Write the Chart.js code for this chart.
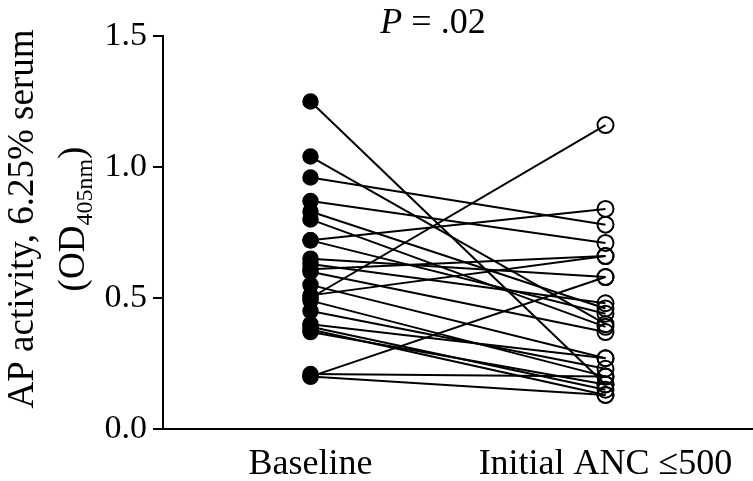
<!DOCTYPE html>
<html>
<head>
<meta charset="utf-8">
<script src="https://cdn.jsdelivr.net/npm/chart.js@4"></script>
<style>
  html, body { margin: 0; padding: 0; background: #ffffff; }
  #wrap { width: 753px; height: 481px; }
</style>
</head>
<body>
<div id="wrap"><canvas id="c" width="753" height="481"></canvas></div>
<script>
// ---- data ----
const categories = ['Baseline', 'Initial ANC \u2264500'];
const baselineValues = [1.25, 1.04, 0.96, 0.87, 0.83, 0.80, 0.72, 0.72, 0.65, 0.63, 0.61, 0.60,
                        0.55, 0.51, 0.50, 0.49, 0.45, 0.40, 0.39, 0.38, 0.37, 0.21, 0.20, 0.20];
const ancValues      = [0.17, 0.40, 0.78, 0.71, 0.46, 0.39, 0.84, 0.44, 0.58, 0.48, 0.66, 0.37,
                        0.27, 0.66, 1.16, 0.20, 0.23, 0.27, 0.15, 0.13, 0.17, 0.20, 0.58, 0.13];
const yTickValues = [0.0, 0.5, 1.0, 1.5];
const pValueLabel = ['P', ' = .02'];
const yTitleLine1 = 'AP activity, 6.25% serum';
const yTitleLine2 = ['(OD', '405nm', ')'];

const SERIF = '"Liberation Serif", "DejaVu Serif", serif';

const datasets = baselineValues.map((b, i) => ({
  data: [{x: 0, y: b}, {x: 1, y: ancValues[i]}],
  showLine: true,
  borderColor: '#000',
  borderWidth: 2,
  pointStyle: 'circle',
  pointRadius: [7.5, 8],
  pointBorderWidth: [1.5, 2],
  pointBackgroundColor: ['#000', 'rgba(0,0,0,0)'],
  pointBorderColor: '#000',
  clip: false
}));

const textPlugin = {
  id: 'textPlugin',
  afterDraw(chart) {
    const ctx = chart.ctx;
    ctx.save();
    ctx.fillStyle = '#000';
    // P value
    ctx.textBaseline = 'alphabetic';
    ctx.font = 'italic 36px ' + SERIF;
    const wP = ctx.measureText(pValueLabel[0]).width;
    ctx.font = '36px ' + SERIF;
    const wR = ctx.measureText(pValueLabel[1]).width;
    let x0 = 433 - (wP + wR) / 2;
    ctx.font = 'italic 36px ' + SERIF;
    ctx.fillText(pValueLabel[0], x0, 33);
    ctx.font = '36px ' + SERIF;
    ctx.fillText(pValueLabel[1], x0 + wP, 33);

    // Y title
    const cy = 219;
    ctx.save();
    ctx.translate(33, cy);
    ctx.rotate(-Math.PI / 2);
    ctx.font = '37px ' + SERIF;
    ctx.textAlign = 'center';
    ctx.fillText(yTitleLine1, 0, 0);
    ctx.restore();

    ctx.save();
    ctx.translate(84, cy);
    ctx.rotate(-Math.PI / 2);
    ctx.textAlign = 'left';
    ctx.font = '37px ' + SERIF;
    const w1 = ctx.measureText(yTitleLine2[0]).width;
    const w3 = ctx.measureText(yTitleLine2[2]).width;
    ctx.font = '24px ' + SERIF;
    const w2 = ctx.measureText(yTitleLine2[1]).width;
    let sx = -(w1 + w2 + w3) / 2;
    ctx.font = '37px ' + SERIF;
    ctx.fillText(yTitleLine2[0], sx, 0);
    ctx.font = '24px ' + SERIF;
    ctx.fillText(yTitleLine2[1], sx + w1, 8);
    ctx.font = '37px ' + SERIF;
    ctx.fillText(yTitleLine2[2], sx + w1 + w2, 0);
    ctx.restore();
    ctx.restore();
  }
};

new Chart(document.getElementById('c'), {
  type: 'scatter',
  data: { datasets },
  plugins: [textPlugin],
  options: {
    responsive: false,
    animation: false,
    layout: { autoPadding: false, padding: { top: 36, right: 0, left: 0, bottom: 0 } },
    plugins: { legend: { display: false }, tooltip: { enabled: false }, title: { display: false } },
    scales: {
      x: {
        type: 'linear',
        min: -0.5,
        max: 1.5,
        afterFit: s => { s.height = 52; s.paddingLeft = 0; s.paddingRight = 0; },
        afterBuildTicks: s => { s.ticks = [{value: 0}, {value: 1}]; },
        ticks: {
          autoSkip: false,
          maxRotation: 0,
          padding: 14,
          color: '#000',
          font: { family: SERIF, size: 36 },
          callback: v => categories[v]
        },
        grid: { drawOnChartArea: false, drawTicks: false },
        border: { display: true, color: '#000', width: 2 }
      },
      y: {
        min: 0,
        max: 1.5,
        afterFit: s => { s.width = 163; s.paddingTop = 0; s.paddingBottom = 0; },
        afterBuildTicks: s => { s.ticks = yTickValues.map(v => ({value: v})); },
        ticks: {
          padding: 6,
          color: '#000',
          font: { family: SERIF, size: 34 },
          callback: v => Number(v).toFixed(1)
        },
        grid: { drawOnChartArea: false, drawTicks: true, tickLength: 10, color: '#000', lineWidth: 2 },
        border: { display: true, color: '#000', width: 2 }
      }
    }
  }
});
</script>
</body>
</html>
